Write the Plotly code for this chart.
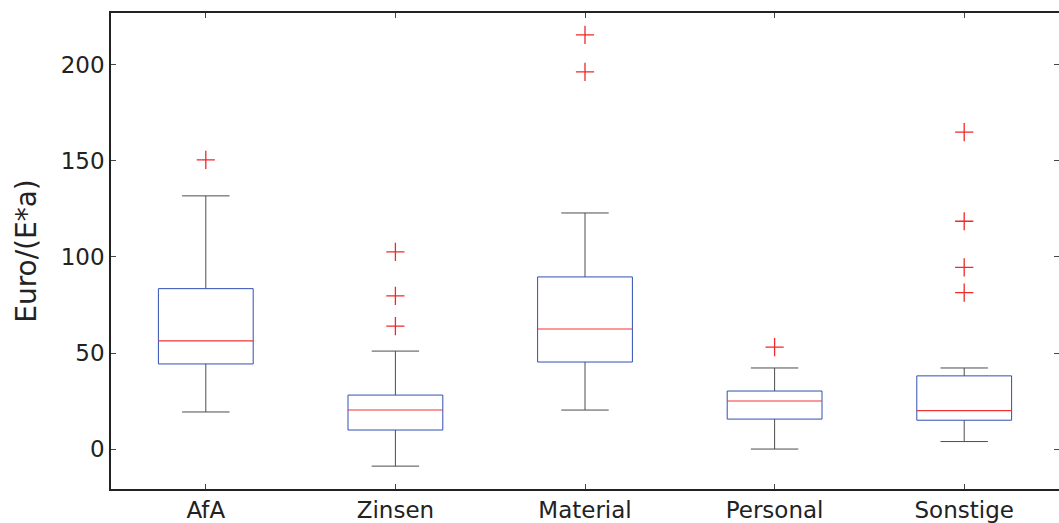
import plotly.graph_objects as go

categories = ["AfA", "Zinsen", "Material", "Personal", "Sonstige"]
lower_whisker = [19.3, -8.9, 20.3, 0.0, 3.9]
q1 = [44.3, 9.9, 45.3, 15.6, 15.0]
median = [56.3, 20.3, 62.5, 25.0, 20.0]
q3 = [83.5, 28.1, 89.6, 30.2, 38.1]
upper_whisker = [131.8, 51.0, 122.9, 42.2, 42.2]
outliers = [
    [150.5],
    [102.6, 79.7, 64.0],
    [215.6, 196.4],
    [53.1],
    [165.0, 118.6, 94.6, 81.4],
]
y_ticks = [0, 50, 100, 150, 200]

BOX_HALF = 0.25      # half box width in x units
CAP_HALF = 0.125     # half whisker-cap width
FONT = "DejaVu Sans, Arial, sans-serif"
X_RANGE = [0.5, 5.5]
Y_RANGE = [-20.8, 227]

fig = go.Figure()
# empty trace that carries the right-hand tick axis
fig.add_trace(go.Scatter(x=[], y=[], xaxis="x", yaxis="y2",
                         showlegend=False, hoverinfo="skip"))

for i, cat in enumerate(categories):
    p = i + 1
    # whiskers and caps
    fig.add_trace(go.Scatter(
        x=[p, p, None, p, p, None,
           p - CAP_HALF, p + CAP_HALF, None, p - CAP_HALF, p + CAP_HALF],
        y=[lower_whisker[i], q1[i], None, q3[i], upper_whisker[i], None,
           lower_whisker[i], lower_whisker[i], None,
           upper_whisker[i], upper_whisker[i]],
        mode="lines", line=dict(color="#4d4d4d", width=1),
        showlegend=False, hoverinfo="skip",
    ))
    # box
    fig.add_trace(go.Scatter(
        x=[p - BOX_HALF, p + BOX_HALF, p + BOX_HALF, p - BOX_HALF, p - BOX_HALF],
        y=[q1[i], q1[i], q3[i], q3[i], q1[i]],
        mode="lines", line=dict(color="#3050b0", width=1),
        showlegend=False, hoverinfo="skip",
    ))
    # median
    fig.add_trace(go.Scatter(
        x=[p - BOX_HALF, p + BOX_HALF], y=[median[i], median[i]],
        mode="lines", line=dict(color="#f03535", width=1.1),
        showlegend=False, hoverinfo="skip",
    ))
    # outliers
    fig.add_trace(go.Scatter(
        x=[p] * len(outliers[i]), y=outliers[i], mode="markers",
        marker=dict(symbol="cross-thin-open", size=13, color="#f02828",
                    line=dict(color="#f02828", width=1.3)),
        showlegend=False, hoverinfo="skip",
    ))

fig.update_layout(
    width=1059, height=523,
    margin=dict(l=111, r=0, t=13, b=34),
    paper_bgcolor="white", plot_bgcolor="white",
    font=dict(family=FONT, size=23, color="#222222"),
    xaxis=dict(
        range=X_RANGE, tickvals=list(range(1, len(categories) + 1)),
        ticktext=categories, showgrid=False, zeroline=False,
        showline=True, linecolor="#222222", linewidth=1.5, mirror="ticks",
        ticks="inside", ticklen=5, tickcolor="#444444",
    ),
    yaxis=dict(
        range=Y_RANGE, tickvals=y_ticks, showgrid=False, zeroline=False,
        showline=True, linecolor="#222222", linewidth=1.5, mirror=False,
        ticks="inside", ticklen=5, tickcolor="#444444",
        title=dict(text="Euro/(E*a)", standoff=16),
    ),
    yaxis2=dict(
        range=Y_RANGE, tickvals=y_ticks, overlaying="y", side="right",
        showgrid=False, zeroline=False, showline=False,
        showticklabels=False, ticks="inside", ticklen=5, tickcolor="#444444",
    ),
)

fig.write_html("out.html", config={"displayModeBar": False},
               post_script="document.body.style.margin='0';")
